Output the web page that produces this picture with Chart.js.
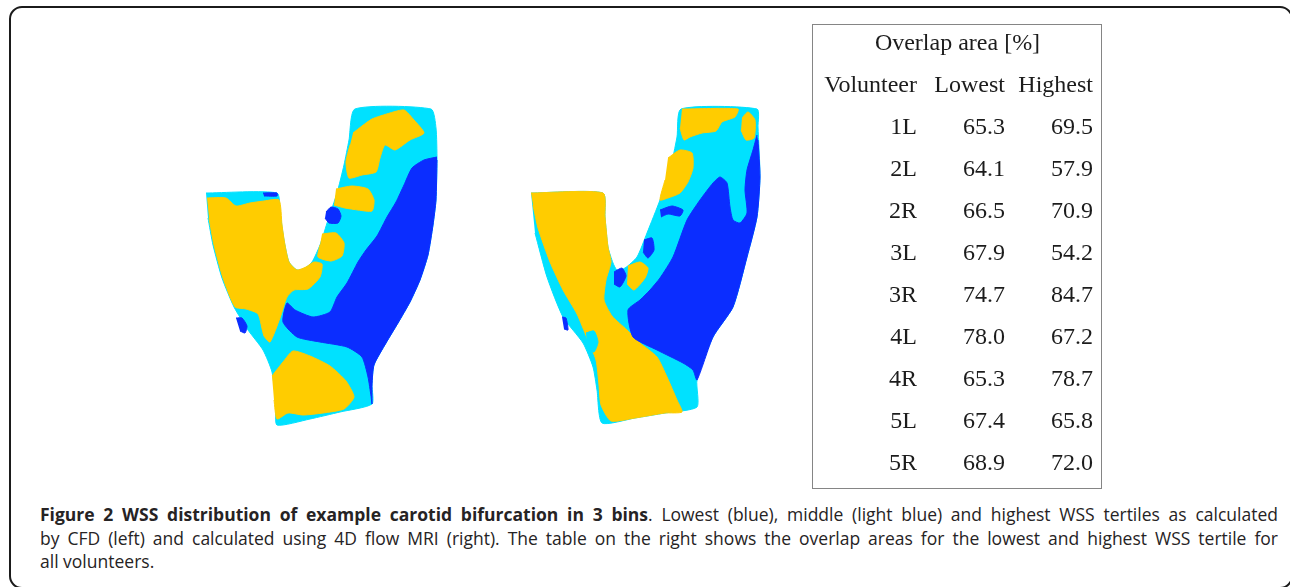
<!DOCTYPE html>
<html lang="en">
<head>
<meta charset="utf-8">
<title>Figure 2 WSS distribution</title>
<script src="https://cdn.jsdelivr.net/npm/chart.js@4.4.1/dist/chart.umd.min.js"></script>
<style>
    html, body { margin: 0; padding: 0; background: #fff; }
    body { width: 1290px; height: 587px; position: relative; overflow: hidden; }
    #frame { position: absolute; left: 9px; top: 6px; width: 1280px; height: 579px; border: 2px solid #1b1b1b; border-radius: 13px; }
    #vesselBox { position: absolute; left: 190px; top: 100px; width: 590px; height: 340px; }
    #tableBox { position: absolute; left: 813px; top: 25px; width: 289px; height: 464px; }
    #tableBorder { position: absolute; left: 812px; top: 24px; width: 288px; height: 463px; border: 1.5px solid #858585; }
    #caption { position: absolute; left: 40px; top: 503px; width: 1238px; font-family: 'Open Sans', sans-serif; font-size: 17.5px; line-height: 23.5px; color: #262324; }
    .line { white-space: nowrap; }
</style>
</head>
<body>
<div id="frame"></div>
<div id="vesselBox"><canvas id="vesselChart" width="590" height="340"></canvas></div>
<div id="tableBorder"></div>
<div id="tableBox"><canvas id="tableChart" width="289" height="464"></canvas></div>
<div id="caption">
    <div class="line" data-justify="1"><span><b>Figure 2 WSS distribution of example carotid bifurcation in 3 bins</b>. Lowest (blue), middle (light blue) and highest WSS tertiles as calculated</span></div>
    <div class="line" data-justify="1"><span>by CFD (left) and calculated using 4D flow MRI (right). The table on the right shows the overlap areas for the lowest and highest WSS tertile for</span></div>
    <div class="line"><span>all volunteers.</span></div>
</div>
<script>
// Overlap table values
const tableTitle = 'Overlap area [%]';
const tableColumns = ['Volunteer', 'Lowest', 'Highest'];
const volunteers = ['1L', '2L', '2R', '3L', '3R', '4L', '4R', '5L', '5R'];
const lowestOverlap = [65.3, 64.1, 66.5, 67.9, 74.7, 78.0, 65.3, 67.4, 68.9];
const highestOverlap = [69.5, 57.9, 70.9, 54.2, 84.7, 67.2, 78.7, 65.8, 72.0];

// CFD bifurcation (left): wall outline and tertile regions
const cfdWall = [[206,193],[277,193],[280,212],[284,240],[289,262],[297,270],[305,268],[312,262],[320,245],[328,220],[337,193],[344,165],[349,140],[355,109],[431,109],[436,128],[437,160],[436,200],[433,225],[428,255],[420,280],[410,302],[398,323],[386,343],[374,365],[372,385],[372,404],[340,412],[310,419],[277,425],[276,405],[272,372],[263,350],[248,330],[234,307],[222,278],[213,245],[208,218]];
const cfdHighA = [[207,198],[226,198],[236,206],[250,203],[264,201],[279,200],[282,225],[285,245],[289,262],[297,270],[306,267],[314,262],[322,264],[320,277],[308,289],[294,290],[287,297],[280,318],[270,342],[264,336],[258,314],[246,309],[235,307],[223,278],[214,245],[209,218]];
const cfdHighB = [[272,376],[283,362],[293,351],[310,356],[330,366],[346,381],[354,397],[344,409],[323,413],[303,415],[288,413],[277,419],[274,400]];
const cfdHighC = [[353,133],[362,126],[372,119],[390,113],[404,110],[414,120],[424,133],[410,140],[395,150],[385,145],[380,158],[376,172],[362,175],[349,178],[346,162],[350,145]];
const cfdHighD = [[336,189],[352,186],[368,189],[374,200],[372,211],[358,210],[345,208],[334,205]];
const cfdHighE = [[322,234],[336,233],[344,243],[342,256],[331,261],[318,257],[320,245]];
const cfdLowA = [[437,157],[424,160],[412,168],[404,185],[396,202],[387,217],[377,236],[366,250],[358,262],[347,283],[337,297],[330,312],[313,317],[295,310],[287,303],[283,322],[297,337],[320,342],[347,347],[362,357],[368,377],[371,396],[372,404],[372,385],[374,365],[386,343],[398,323],[410,302],[420,280],[428,255],[433,225],[436,200],[437,160]];
const cfdLowB = [[326,212],[331,207],[338,209],[341,216],[338,223],[329,223],[325,218]];
const cfdLowC = [[236,318],[242,318],[247,326],[245,333],[240,331]];
const cfdLowD = [[263,193],[277,193],[277,196],[264,196]];

// 4D flow MRI bifurcation (right): wall outline and tertile regions
const mriWall = [[531,193],[603,193],[605,217],[608,247],[613,263],[617,270],[625,268],[637,257],[647,233],[660,200],[670,170],[677,137],[681,109],[757,109],[758,127],[760,177],[757,217],[747,257],[733,307],[713,337],[697,380],[697,407],[665,413],[635,418],[602,423],[597,390],[593,367],[583,343],[563,317],[547,277],[535,233]];
const mriHighA = [[531,193],[603,193],[605,217],[608,247],[611,262],[606,280],[604,300],[612,316],[627,330],[640,343],[657,357],[667,377],[677,400],[682,412],[665,413],[635,418],[611,421],[601,405],[599,385],[596,360],[587,338],[577,314],[563,290],[550,262],[538,228],[533,205]];
const mriHighB = [[628,266],[640,262],[648,268],[645,278],[634,290],[627,284]];
const mriHighC = [[682,109],[738,109],[735,117],[722,122],[716,131],[702,133],[690,137],[684,140],[680,128]];
const mriHighD = [[742,118],[748,112],[755,120],[754,138],[746,140],[741,130]];
const mriHighE = [[668,158],[680,150],[692,153],[693,168],[688,182],[680,193],[668,198],[660,200],[665,180]];
const mriMidA = [[586,333],[594,331],[598,342],[594,352],[587,348]];
const mriLowA = [[757,135],[753,150],[747,170],[745,190],[747,213],[740,223],[733,220],[730,207],[727,183],[720,177],[713,183],[700,200],[687,220],[673,257],[660,278],[650,290],[640,300],[628,310],[633,337],[657,350],[683,363],[693,370],[697,380],[713,337],[733,307],[747,257],[757,217],[760,177],[758,140]];
const mriLowB = [[660,210],[672,206],[683,210],[680,216],[668,214],[661,217]];
const mriLowC = [[644,240],[652,238],[654,250],[648,258],[643,252]];
const mriLowD = [[614,272],[622,268],[626,276],[620,287],[614,284]];
const mriLowE = [[562,317],[566,318],[568,330],[564,329]];

// Tertile colours
const COLOR_LOW = '#0b2dff';
const COLOR_MID = '#00e1ff';
const COLOR_HIGH = '#ffcc00';

class FigureBuilder {
    constructor() {
        document.addEventListener('DOMContentLoaded', () => {
            this.drawVessels(); // bifurcation maps
            this.drawTable(); // overlap table
            this.fitCaption(); // justify caption lines
            if (document.fonts) document.fonts.ready.then(() => this.fitCaption());
        });
    }

    // Two carotid bifurcations as filled regions on one scatter chart
    drawVessels() {
        const layers = [
            { points: cfdWall, color: COLOR_MID, order: 10 },
            { points: mriWall, color: COLOR_MID, order: 10 },
            ...[cfdHighA, cfdHighB, cfdHighC, cfdHighD, cfdHighE, mriHighA, mriHighB, mriHighC, mriHighD, mriHighE]
                .map(p => ({ points: p, color: COLOR_HIGH, order: 6 })),
            { points: mriMidA, color: COLOR_MID, order: 4 },
            ...[cfdLowA, cfdLowB, cfdLowC, cfdLowD, mriLowA, mriLowB, mriLowC, mriLowD, mriLowE]
                .map(p => ({ points: p, color: COLOR_LOW, order: 2 }))
        ];
        const ctx = document.getElementById('vesselChart').getContext('2d');
        new Chart(ctx, {
            type: 'scatter',
            data: {
                datasets: layers.map(l => ({
                    data: l.points.map(([x, y]) => ({ x, y })),
                    showLine: true,
                    fill: 'shape',
                    backgroundColor: l.color,
                    borderColor: l.color,
                    borderWidth: 1,
                    pointRadius: 0,
                    tension: 0.2,
                    order: l.order
                }))
            },
            options: {
                responsive: false,
                animation: false,
                devicePixelRatio: 1,
                layout: { padding: 0 },
                scales: {
                    x: { type: 'linear', min: 190, max: 780, display: false },
                    y: { type: 'linear', min: 100, max: 440, reverse: true, display: false }
                },
                plugins: { legend: { display: false }, tooltip: { enabled: false } }
            }
        });
    }

    // Overlap table: text placed on the chart's own scales
    drawTable() {
        const tableText = {
            id: 'tableText',
            afterDatasetsDraw(chart, args, opts) {
                const { ctx, chartArea, scales: { x, y } } = chart;
                ctx.save();
                ctx.font = opts.font;
                ctx.fillStyle = opts.color;
                ctx.textBaseline = 'alphabetic';
                ctx.textAlign = 'center';
                ctx.fillText(tableTitle, (chartArea.left + chartArea.right) / 2, y.getPixelForValue(-2) + opts.shift);
                ctx.textAlign = 'right';
                tableColumns.forEach((c, i) => ctx.fillText(c, x.getPixelForValue(i), y.getPixelForValue(-1) + opts.shift));
                chart.data.datasets.forEach((ds, d) => {
                    chart.getDatasetMeta(d).data.forEach((pt, i) => ctx.fillText(ds.texts[i], pt.x, pt.y + opts.shift));
                });
                ctx.restore();
            }
        };
        const columns = [volunteers, lowestOverlap.map(v => v.toFixed(1)), highestOverlap.map(v => v.toFixed(1))];
        const ctx = document.getElementById('tableChart').getContext('2d');
        new Chart(ctx, {
            type: 'scatter',
            data: {
                datasets: columns.map((texts, c) => ({
                    label: tableColumns[c],
                    data: texts.map((t, i) => ({ x: c, y: i })),
                    texts: texts,
                    pointRadius: 0
                }))
            },
            options: {
                responsive: false,
                animation: false,
                devicePixelRatio: 1,
                layout: { padding: 0 },
                scales: {
                    x: { type: 'linear', min: -1.182, max: 2.102, display: false },
                    y: { type: 'linear', min: -2.405, max: 8.643, reverse: true, display: false }
                },
                plugins: {
                    legend: { display: false },
                    tooltip: { enabled: false },
                    tableText: { font: '24px "Liberation Serif", "Times New Roman", serif', color: '#1c1c1c', shift: 8 }
                }
            },
            plugins: [tableText]
        });
    }

    // Stretch caption lines to full width like the printed justified text
    fitCaption() {
        const box = document.getElementById('caption');
        const target = box.clientWidth;
        box.querySelectorAll('.line').forEach(line => {
            if (line.dataset.justify !== '1') return;
            const span = line.firstElementChild;
            span.style.wordSpacing = '';
            span.style.transform = '';
            const w = span.getBoundingClientRect().width;
            const spaces = (span.textContent.match(/ /g) || []).length;
            if (w < target) {
                span.style.wordSpacing = ((target - w) / spaces) + 'px';
            } else {
                span.style.display = 'inline-block';
                span.style.transformOrigin = '0 0';
                span.style.transform = 'scaleX(' + (target / w) + ')';
            }
        });
    }
}

const figureBuilder = new FigureBuilder();
</script>
</body>
</html>
